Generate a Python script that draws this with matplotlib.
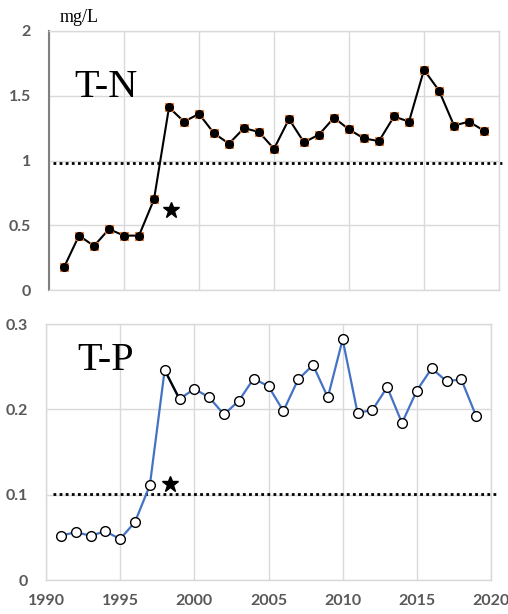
import numpy as np
from matplotlib import pyplot as plt

years = np.arange(1991, 2020)

# total nitrogen, mg/L
tn = [0.175, 0.42, 0.34, 0.47, 0.42, 0.42, 0.70, 1.41, 1.30, 1.36,
      1.21, 1.13, 1.25, 1.22, 1.09, 1.32, 1.14, 1.20, 1.33, 1.24,
      1.17, 1.15, 1.34, 1.30, 1.70, 1.54, 1.27, 1.30, 1.23]

# total phosphorus, mg/L
tp = [0.052, 0.056, 0.052, 0.057, 0.048, 0.068, 0.111, 0.246, 0.212, 0.224,
      0.214, 0.194, 0.210, 0.236, 0.227, 0.198, 0.235, 0.252, 0.214, 0.282,
      0.196, 0.199, 0.226, 0.184, 0.222, 0.248, 0.233, 0.235, 0.192]

tn_limit = 0.98
tp_limit = 0.101
tn_star = (1998.1, 0.62)
tp_star = (1998.35, 0.112)

x_ticks = [1990, 1995, 2000, 2005, 2010, 2015, 2020]
tn_ticks = [0, 0.5, 1, 1.5, 2]
tp_ticks = [0, 0.1, 0.2, 0.3]

grid_c = '#d9d9d9'
tick_c = '#595959'
blue = '#4472C4'

fig = plt.figure(figsize=(5.08, 6.14), dpi=100)
ax1 = fig.add_axes([49 / 508, 1 - 290 / 614, 450 / 508, 259 / 614])
ax2 = fig.add_axes([46 / 508, 1 - 580 / 614, 445 / 508, 256 / 614])

for ax in (ax1, ax2):
    ax.set_xlim(1990, 2020)
    ax.set_xticks(x_ticks)
    ax.grid(True, color=grid_c, lw=1)
    ax.set_axisbelow(True)
    for s in ax.spines.values():
        s.set_color(grid_c)
        s.set_linewidth(1)
    ax.tick_params(length=0, labelsize=11.5, labelcolor=tick_c, pad=13)

# T-N panel
ax1.set_ylim(0, 2)
ax1.set_yticks(tn_ticks)
ax1.set_yticklabels(['0', '0.5', '1', '1.5', '2'], fontfamily='Lato', fontweight='bold')
ax1.tick_params(axis='x', labelbottom=False)
ax1.spines['left'].set_color('#808080')
ax1.spines['left'].set_linewidth(1.5)
ax1.plot(years, tn, color='black', lw=1.5, zorder=3)
ax1.plot(years, tn, ls='none', marker='s', ms=5.5, mfc='black', mec='#ED7D31',
         mew=0.8, zorder=4)
ax1.plot(years, tn, ls='none', marker='o', ms=5.5, color='black', zorder=5)
ax1.plot([1990.27, 2020.4], [tn_limit, tn_limit], color='black', ls=(0, (1, 1.2)),
         lw=2, clip_on=False, zorder=2)
ax1.plot(*tn_star, marker='*', ms=12, color='black', ls='none')
ax1.text(1991.7, 1.49, 'T-N', fontfamily='Liberation Serif', fontsize=29)
fig.text(60 / 508, 1 - 22 / 614, 'mg/L', fontfamily='Liberation Serif', fontsize=13)

# T-P panel
ax2.set_ylim(0, 0.3)
ax2.set_yticks(tp_ticks)
ax2.set_yticklabels(['0', '0.1', '0.2', '0.3'], fontfamily='Lato', fontweight='bold')
ax2.set_xticklabels([str(y) for y in x_ticks], fontfamily='Lato', fontweight='bold')
ax2.tick_params(axis='x', pad=10)
ax2.plot(years, tp, color=blue, lw=1.6, zorder=3)
ax2.plot(years[7:9], tp[7:9], color='black', lw=1.6, zorder=3)
ax2.plot(years, tp, ls='none', marker='o', ms=7, mfc='white', mec='black', mew=1, zorder=5)
ax2.plot([1990.47, 2020.5], [tp_limit, tp_limit], color='black', ls=(0, (1, 1.2)),
         lw=2, clip_on=False, zorder=2)
ax2.plot(*tp_star, marker='*', ms=12, color='black', ls='none')
ax2.text(1992.1, 0.246, 'T-P', fontfamily='Liberation Serif', fontsize=29)

fig.savefig('out.png', dpi=100)
